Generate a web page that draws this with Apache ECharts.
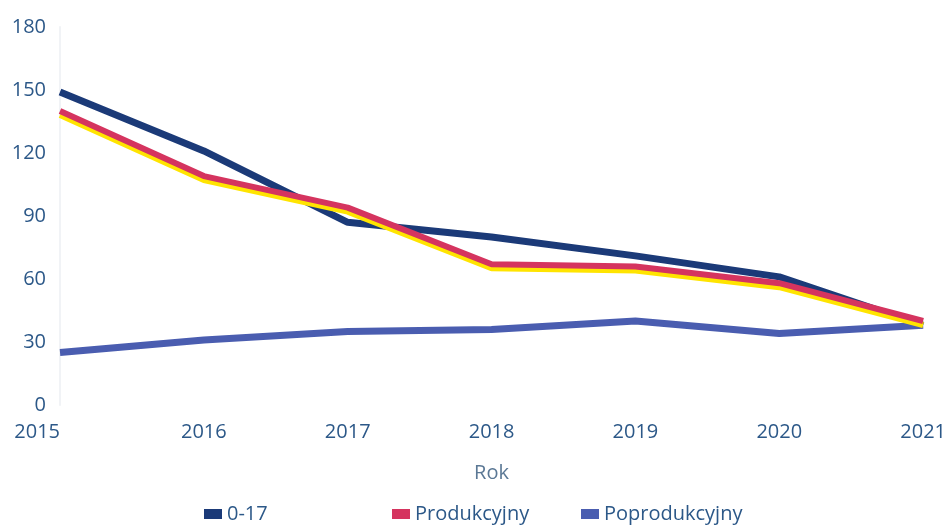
<!DOCTYPE html>
<html>
<head>
<meta charset="utf-8">
<script src="https://cdn.jsdelivr.net/npm/echarts@6/dist/echarts.min.js"></script>
<style>
  html, body { margin: 0; padding: 0; background: #fff; }
  #chart { width: 949px; height: 529px; }
</style>
</head>
<body>
<div id="chart"></div>
<script>
// data
const years = ['2015', '2016', '2017', '2018', '2019', '2020', '2021']
const youth = [149, 121, 87, 80, 71, 61, 38]          // 0-17
const working = [140, 109, 94, 67, 66, 58, 40]        // Produkcyjny
const retired = [25, 31, 35, 36, 40, 34, 38]          // Poprodukcyjny
const yTicks = { min: 0, max: 180, interval: 30 }

const textColor = '#2c5888'
const font = 'Open Sans'

const chart = echarts.init(document.getElementById('chart'))

function legendAt(name, left) {
  return {
    data: [name],
    left: left,
    top: 504,
    padding: 0,
    icon: 'rect',
    itemWidth: 18,
    itemHeight: 10,
    itemGap: 6,
    textStyle: { color: textColor, fontSize: 20, fontFamily: font }
  }
}

chart.setOption({
  animation: false,
  grid: { left: 60, right: 25, top: 27, bottom: 124 },
  legend: [
    legendAt('0-17', 204),
    legendAt('Produkcyjny', 392),
    legendAt('Poprodukcyjny', 581)
  ],
  xAxis: {
    type: 'category',
    data: years,
    boundaryGap: false,
    name: 'Rok',
    nameLocation: 'middle',
    nameGap: 58,
    nameTextStyle: { color: '#5b7895', fontSize: 20, fontFamily: font },
    axisLine: { show: false },
    axisTick: { show: false },
    axisLabel: { color: textColor, fontSize: 20, fontFamily: font, margin: 17, alignMinLabel: 'right' }
  },
  yAxis: {
    type: 'value',
    min: yTicks.min,
    max: yTicks.max,
    interval: yTicks.interval,
    axisLine: { show: true, lineStyle: { color: '#f1f3f6', width: 2 } },
    axisTick: { show: false },
    splitLine: { show: false },
    axisLabel: { color: textColor, fontSize: 20, fontFamily: font, margin: 14 }
  },
  series: [
    {
      name: 'Poprodukcyjny',
      type: 'line',
      data: retired,
      symbol: 'none',
      itemStyle: { color: '#4a5db0' },
      lineStyle: { color: '#4a5db0', width: 7 }
    },
    {
      name: 'Produkcyjny',
      type: 'line',
      data: working,
      symbol: 'none',
      itemStyle: { color: '#d5345f' },
      lineStyle: {
        color: '#d5345f',
        width: 6,
        shadowColor: '#ffe400',
        shadowBlur: 0,
        shadowOffsetY: 4
      }
    },
    {
      name: '0-17',
      type: 'line',
      data: youth,
      symbol: 'none',
      z: 1,
      itemStyle: { color: '#1b3a78' },
      lineStyle: { color: '#1b3a78', width: 7 }
    }
  ]
})
</script>
</body>
</html>
